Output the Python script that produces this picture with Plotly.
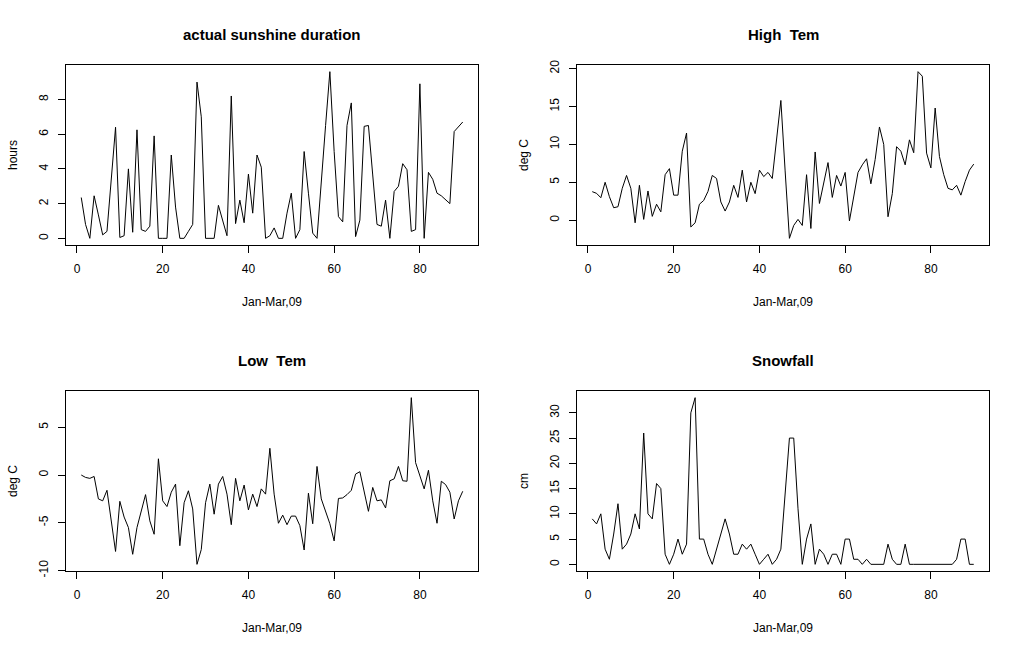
import plotly.graph_objects as go
from plotly.subplots import make_subplots

# day index, Jan-Mar 2009
days = list(range(1, 91))

sunshine = [2.35, 0.8, 0.0, 2.45, 1.35, 0.2, 0.4, 3.4, 6.4, 0.05,
            0.15, 4.0, 0.35, 6.25, 0.5, 0.4, 0.7, 5.9, 0.0, 0.0,
            0.0, 4.8, 1.8, 0.0, 0.0, 0.4, 0.8, 9.0, 7.0, 0.0,
            0.0, 0.0, 1.9, 1.05, 0.15, 8.2, 0.85, 2.2, 0.9, 3.7,
            1.45, 4.8, 4.1, 0.0, 0.15, 0.6, 0.0, 0.0, 1.45, 2.6,
            0.0, 0.5, 5.0, 2.6, 0.3, 0.0, 3.5, 6.5, 9.6, 5.0,
            1.25, 0.95, 6.5, 7.8, 0.1, 1.05, 6.45, 6.5, 3.65, 0.8,
            0.7, 2.2, 0.0, 2.7, 3.0, 4.3, 3.95, 0.4, 0.5, 8.9,
            0.0, 3.8, 3.4, 2.6, 2.45, 2.2, 2.0, 6.15, 6.45, 6.7]

high_tem = [3.76, 3.54, 2.96, 5.0, 3.1, 1.64, 1.77, 4.2, 5.9, 4.2,
            -0.35, 4.6, 0.1, 3.85, 0.5, 2.1, 1.1, 6.0, 6.8, 3.3,
            3.3, 9.1, 11.5, -0.9, -0.35, 2.1, 2.6, 3.8, 5.9, 5.5,
            2.4, 1.2, 2.4, 4.6, 3.0, 6.6, 2.4, 5.0, 3.5, 6.6,
            5.75, 6.3, 5.5, 10.5, 15.8, 6.5, -2.4, -0.7, 0.1, -0.7,
            6.0, -1.1, 9.0, 2.2, 4.9, 7.6, 3.0, 5.9, 4.5, 6.3,
            -0.1, 3.1, 6.3, 7.3, 8.1, 4.8, 8.0, 12.3, 10.0, 0.45,
            3.5, 9.7, 9.1, 7.3, 10.6, 8.9, 19.6, 19.0, 8.85, 6.9,
            14.8, 8.4, 6.0, 4.2, 4.0, 4.6, 3.3, 5.1, 6.6, 7.4]

low_tem = [0.0, -0.25, -0.35, -0.15, -2.5, -2.7, -1.6, -5.1, -8.0, -2.75,
           -4.4, -5.5, -8.3, -5.5, -3.7, -2.05, -4.8, -6.2, 1.7, -2.7,
           -3.3, -1.8, -0.95, -7.4, -2.9, -1.65, -3.55, -9.35, -7.8, -2.9,
           -0.95, -4.1, -0.95, -0.15, -2.0, -5.2, -0.35, -2.7, -1.05, -3.65,
           -2.0, -3.3, -1.45, -2.0, 2.8, -2.0, -5.05, -4.2, -5.2, -4.3,
           -4.3, -5.3, -7.85, -1.9, -5.1, 0.9, -2.5, -3.9, -5.1, -6.9,
           -2.45, -2.4, -2.05, -1.6, 0.1, 0.35, -1.8, -3.8, -1.3, -2.7,
           -2.6, -3.45, -0.6, -0.4, 0.9, -0.6, -0.65, 8.1, 1.3, 0.0,
           -1.45, 0.5, -2.7, -5.05, -0.65, -1.0, -1.8, -4.6, -2.7, -1.7]

snowfall = [9, 8, 10, 3, 1, 6, 12, 3, 4, 6,
            10, 7, 26, 10, 9, 16, 15, 2, 0, 2,
            5, 2, 4, 30, 33, 5, 5, 2, 0, 3,
            6, 9, 6, 2, 2, 4, 3, 4, 2, 0,
            1, 2, 0, 1, 3, 14, 25, 25, 11, 0,
            5, 8, 0, 3, 2, 0, 2, 2, 0, 5,
            5, 1, 1, 0, 1, 0, 0, 0, 0, 4,
            1, 0, 0, 4, 0, 0, 0, 0, 0, 0,
            0, 0, 0, 0, 0, 1, 5, 5, 0, 0]

titles = ["actual sunshine duration", "High\u00a0 Tem", "Low\u00a0 Tem", "Snowfall"]
ylabels = ["hours", "deg C", "deg C", "cm"]
xlabel = "Jan-Mar,09"
x_ticks = [0, 20, 40, 60, 80]
y_ticks = [[0, 2, 4, 6, 8],
           [0, 5, 10, 15, 20],
           [-10, -5, 0, 5],
           [0, 5, 10, 15, 20, 25, 30]]

W, H = 1024, 653
FONT = "Liberation Sans, Arial, sans-serif"

def fx(p):
    return p / W

def fy(p):
    return 1 - p / H

def r_range(vals):
    # R style 4% padding
    lo, hi = min(vals), max(vals)
    pad = (hi - lo) * 0.04
    return [lo - pad, hi + pad]

# plot boxes in pixels: left, top, right, bottom
boxes = [(66, 65, 478, 245), (577, 65, 989, 245),
         (66, 391, 478, 571), (577, 391, 989, 571)]
series = [sunshine, high_tem, low_tem, snowfall]

fig = make_subplots(rows=2, cols=2)

for k, (vals, box) in enumerate(zip(series, boxes)):
    row, col = k // 2 + 1, k % 2 + 1
    fig.add_trace(go.Scatter(x=days, y=vals, mode="lines",
                             line=dict(color="black", width=1),
                             showlegend=False, hoverinfo="skip"),
                  row=row, col=col)
    l, t, r, b = box
    fig.update_xaxes(domain=[fx(l), fx(r)], range=r_range(days),
                     tickvals=x_ticks, ticktext=[str(v) for v in x_ticks],
                     ticks="outside", ticklen=7, tickcolor="black",
                     showline=True, mirror=True, linecolor="black", linewidth=1,
                     showgrid=False, zeroline=False, ticklabelstandoff=6,
                     automargin=False,
                     tickfont=dict(family=FONT, size=12, color="black"),
                     row=row, col=col)
    fig.update_yaxes(domain=[fy(b), fy(t)], range=r_range(vals),
                     tickvals=y_ticks[k], ticktext=[str(v) for v in y_ticks[k]],
                     tickangle=-90,
                     ticks="outside", ticklen=7, tickcolor="black",
                     showline=True, mirror=True, linecolor="black", linewidth=1,
                     showgrid=False, zeroline=False, ticklabelstandoff=5,
                     automargin=False,
                     tickfont=dict(family=FONT, size=12, color="black"),
                     row=row, col=col)

    cx = (l + r) / 2
    cy = (t + b) / 2
    fig.add_annotation(text="<b>" + titles[k] + "</b>", x=fx(cx), y=fy(t - 31),
                       xanchor="center", yanchor="middle",
                       xref="paper", yref="paper", showarrow=False,
                       font=dict(family=FONT, size=15, color="black"))
    fig.add_annotation(text=xlabel, x=fx(cx), y=fy(b + 57),
                       xanchor="center", yanchor="middle",
                       xref="paper", yref="paper", showarrow=False,
                       font=dict(family=FONT, size=12, color="black"))
    fig.add_annotation(text=ylabels[k], x=fx(l - 53), y=fy(cy), textangle=-90,
                       xanchor="center", yanchor="middle",
                       xref="paper", yref="paper", showarrow=False,
                       font=dict(family=FONT, size=12, color="black"))

fig.update_layout(width=W, height=H, margin=dict(l=0, r=0, t=0, b=0),
                  paper_bgcolor="white", plot_bgcolor="white")

# page body has a default margin; drop it so the figure sits at the corner
fig.write_html("out.html", config={"displayModeBar": False},
               post_script="document.body.style.margin = '0';")
